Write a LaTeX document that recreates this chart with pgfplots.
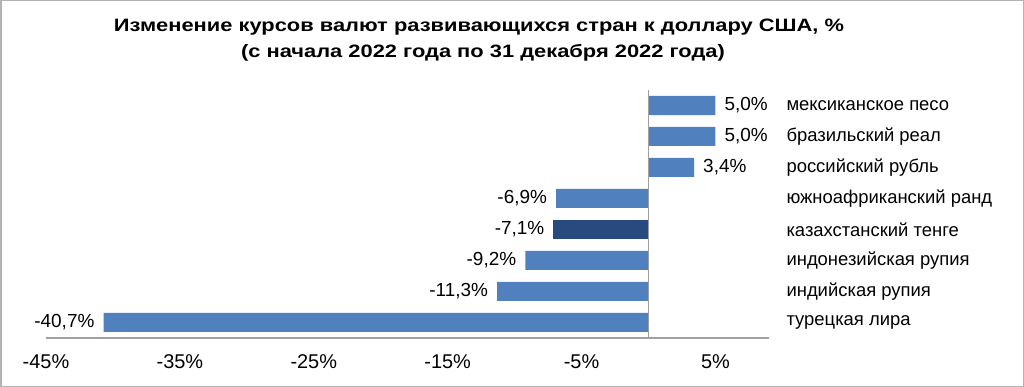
\documentclass[border=0pt]{standalone}
\usepackage{fontspec}
\setmainfont{Liberation Sans}
\usepackage{pgfplots}
\pgfplotsset{compat=1.18}
\definecolor{barblue}{HTML}{5080BD}
\definecolor{bardark}{HTML}{284A7E}
\definecolor{axgray}{HTML}{A0A0A0}
\begin{document}
\begin{tikzpicture}
\useasboundingbox (0,0) rectangle (1024bp,387bp);
\draw[axgray!80, line width=1.5bp] (0.75bp,0.75bp) rectangle (1023.25bp,386.25bp);
\node[font=\fontsize{18}{20}\selectfont\bfseries, anchor=base, xscale=1.22] at (479bp,355bp) {Изменение курсов валют развивающихся стран к доллару США, \%};
\node[font=\fontsize{18}{20}\selectfont\bfseries, anchor=base, xscale=1.22] at (483bp,329bp) {(с начала 2022 года по 31 декабря 2022 года)};
\begin{axis}[
  at={(46bp,49bp)}, anchor=south west,
  scale only axis, width=723bp, height=248bp,
  xbar, bar width=19bp,
  xmin=-45, xmax=9, ymin=-0.5, ymax=7.5,
  axis line style={draw=none},
  major tick length=0pt,
  xtick={-45,-35,-25,-15,-5,5},
  xticklabel={\pgfmathprintnumber{\tick}\%},
  /pgf/number format/assume math mode=true,
  xticklabel style={font=\fontsize{20}{22}\selectfont, yshift=-13bp},
  ytick={0,1,2,3,4,5,6,7},
  yticklabels={турецкая лира, индийская рупия, индонезийская рупия, казахстанский тенге, южноафриканский ранд, российский рубль, бразильский реал, мексиканское песо},
  yticklabel pos=right,
  yticklabel style={font=\fontsize{18.5}{20}\selectfont, anchor=west, xshift=14bp},
  nodes near coords={\pgfmathprintnumber[fixed,fixed zerofill,precision=1,use comma]{\pgfplotspointmeta}\%},
  nodes near coords style={font=\fontsize{19}{21}\selectfont, text=black, inner xsep=9bp},
  nodes near coords align={horizontal},
  clip=false,
]
\addplot[fill=barblue, draw=none, bar shift=0pt] coordinates {(-40.7,0) (-11.3,1) (-9.2,2) (-6.9,4) (3.4,5) (5.0,6) (5.0,7)};
\addplot[fill=bardark, draw=none, bar shift=0pt] coordinates {(-7.1,3)};
\draw[axgray, line width=1.2bp] (axis cs:-45,-0.5) -- (axis cs:9,-0.5);
\draw[axgray, line width=1.2bp] (axis cs:0,-0.5) -- (axis cs:0,7.5);
\end{axis}
\end{tikzpicture}
\end{document}
